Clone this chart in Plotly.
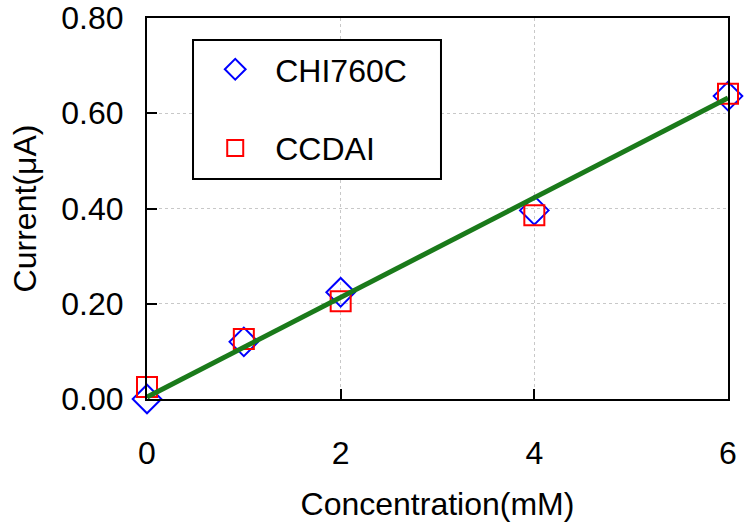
import plotly.graph_objects as go

conc = [0, 1, 2, 4, 6]
chi760c = [0.000, 0.120, 0.224, 0.396, 0.636]
ccdai = [0.025, 0.126, 0.205, 0.386, 0.641]
fit_x = [0, 6]
fit_y = [0.004, 0.632]

x_ticks = [0, 2, 4, 6]
y_ticks = [0.0, 0.2, 0.4, 0.6, 0.8]
y_labels = ["0.00", "0.20", "0.40", "0.60", "0.80"]

FONT = "Liberation Sans, Arial, sans-serif"
FS = 32

fig = go.Figure()
fig.add_trace(go.Scatter(
    x=conc, y=chi760c, mode="markers", name="CHI760C", legendgroup="a",
    marker=dict(symbol="diamond-open", size=22, color="#0000ff", line=dict(width=2, color="#0000ff")),
    cliponaxis=False,
))
fig.add_trace(go.Scatter(
    x=conc, y=ccdai, mode="markers", name="CCDAI", legendgroup="b",
    marker=dict(symbol="square-open", size=20, color="#ff0000", line=dict(width=2, color="#ff0000")),
    cliponaxis=False,
))
fig.add_trace(go.Scatter(
    x=fit_x, y=fit_y, mode="lines", showlegend=False,
    line=dict(color="#1a7a1a", width=5), cliponaxis=False,
))

axis_common = dict(
    showline=True, linecolor="black", linewidth=2, mirror=True,
    ticks="inside", ticklen=10, tickwidth=2, tickcolor="black",
    showgrid=True, gridcolor="#c8c8c8", gridwidth=1, griddash="dot",
    zeroline=False,
    tickfont=dict(family=FONT, size=FS, color="black"),
)

fig.update_xaxes(
    range=[0, 6], tickvals=x_ticks, ticktext=[str(v) for v in x_ticks],
    ticklabelstandoff=25,
    title=dict(text="Concentration(mM)", font=dict(family=FONT, size=FS, color="black"), standoff=24),
    **axis_common,
)
fig.update_yaxes(
    range=[0, 0.8], tickvals=y_ticks, ticktext=y_labels,
    ticklabelstandoff=15,
    title=dict(text="Current(μA)", font=dict(family=FONT, size=FS, color="black"), standoff=15),
    **axis_common,
)

# legend frame
fig.add_shape(
    type="rect", xref="paper", yref="paper",
    x0=0.0792, x1=0.506, y0=0.5774, y1=0.9423,
    fillcolor="white", line=dict(color="black", width=2), layer="above",
)

fig.update_layout(
    width=749, height=522,
    margin=dict(l=147, r=21, t=18, b=123, autoexpand=False),
    plot_bgcolor="white", paper_bgcolor="white",
    showlegend=True,
    legend=dict(
        x=0.083, y=0.937, xanchor="left", yanchor="top",
        bgcolor="rgba(0,0,0,0)", borderwidth=0,
        font=dict(family=FONT, size=FS, color="black"),
        itemwidth=70, tracegroupgap=34, traceorder="grouped",
    ),
)

fig.write_html(
    "out.html",
    config={"displayModeBar": False},
    post_script="document.body.style.margin='0';document.body.style.padding='0';",
)
